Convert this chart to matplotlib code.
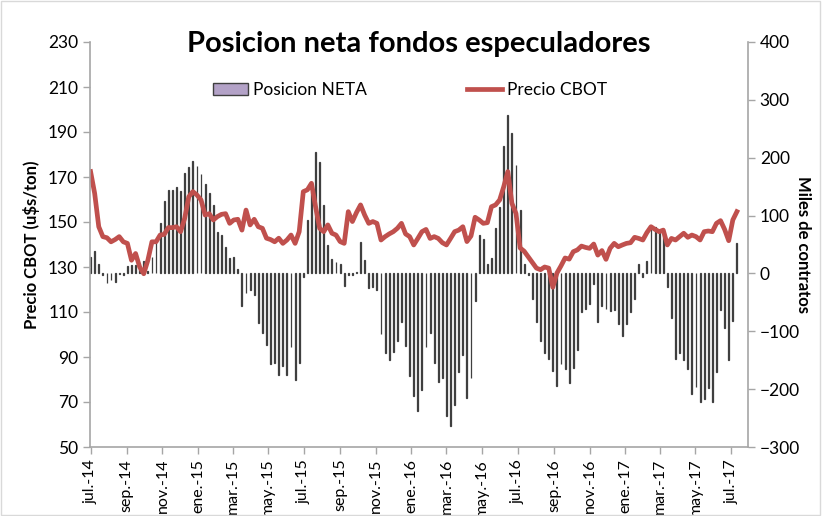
import matplotlib
matplotlib.use("Agg")
import matplotlib.pyplot as plt
import matplotlib.patches as mpatches
import matplotlib.lines as mlines
import pandas as pd

plt.rcParams['font.family'] = ['Lato', 'DejaVu Sans']

# weekly data (Tuesdays), jul-2014 .. jul-2017
fechas = pd.date_range('2014-07-01', periods=159, freq='7D')

# Posicion neta (miles de contratos)
posicion = [28, 38, 17, -3, -17, -11, -14, -1, -2, 12,
            15, 15, 12, 22, 5, 28, 52, 87, 126, 145,
            145, 150, 142, 173, 184, 195, 185, 171, 154, 139,
            119, 71, 66, 45, 26, 28, 7, -57, -34, -28,
            -38, -85, -103, -123, -156, -155, -175, -160, -175, -127,
            -184, -155, -7, 92, 141, 210, 193, 118, 50, 25,
            20, 17, -21, -2, -2, 3, 54, 24, -25, -24,
            -28, -104, -138, -149, -136, -117, -84, -125, -178, -211,
            -237, -202, -127, -103, -155, -188, -181, -246, -263, -227,
            -170, -141, -215, -180, -47, 66, 60, 17, 26, 78,
            115, 221, 273, 242, 187, 109, 17, -3, -45, -84,
            -117, -138, -148, -168, -195, -156, -165, -189, -163, -132,
            -67, -61, -52, -18, -84, -57, -61, -65, -63, -88,
            -109, -87, -67, -45, 17, -7, 22, 83, 80, 74,
            71, -24, -77, -148, -138, -150, -165, -208, -197, -223,
            -217, -198, -223, -170, -64, -94, -149, -83, 52]

# Precio CBOT (u$s/ton)
precio = [172.4, 162.7, 147.9, 143.5, 143.0, 141.2, 142.2, 143.5, 141.2, 140.5,
          133.0, 136.0, 130.0, 127.0, 133.0, 141.2, 141.2, 144.2, 144.5, 147.5,
          147.5, 147.9, 145.7, 151.6, 161.2, 163.5, 162.0, 159.8, 153.1, 153.7,
          150.9, 152.4, 153.4, 153.7, 149.4, 150.9, 151.2, 146.4, 155.3, 148.7,
          151.2, 147.9, 147.2, 142.8, 142.2, 141.2, 142.8, 140.5, 142.0, 144.2,
          140.5, 145.7, 163.5, 164.3, 167.2, 156.8, 147.2, 145.7, 148.7, 145.0,
          144.2, 141.3, 140.5, 154.6, 150.2, 154.2, 157.6, 153.1, 149.4, 150.2,
          149.4, 142.0, 143.5, 144.7, 145.7, 147.2, 149.4, 144.7, 143.5, 139.8,
          142.7, 145.7, 146.7, 142.7, 143.5, 142.7, 140.8, 139.8, 142.7, 145.7,
          146.4, 147.9, 141.3, 143.8, 152.1, 150.9, 149.4, 149.7, 156.8, 157.6,
          159.8, 165.7, 172.4, 158.3, 153.8, 138.5, 137.0, 134.5, 132.0, 129.5,
          128.8, 130.0, 129.5, 121.0, 127.3, 130.5, 134.0, 133.5, 136.8, 137.6,
          139.3, 138.7, 138.3, 140.2, 135.3, 137.3, 133.4, 138.3, 140.5, 139.0,
          139.8, 140.5, 140.8, 143.2, 142.7, 142.0, 145.3, 147.9, 146.7, 145.7,
          146.4, 139.8, 142.7, 142.0, 143.5, 145.0, 143.2, 144.2, 143.5, 142.0,
          145.7, 146.0, 145.7, 149.4, 150.6, 146.7, 141.7, 150.9, 154.6]

tick_fechas = pd.date_range('2014-07-01', '2017-07-01', freq='2MS')
tick_labels = ['jul.-14', 'sep.-14', 'nov.-14', 'ene.-15', 'mar.-15', 'may.-15',
               'jul.-15', 'sep.-15', 'nov.-15', 'ene.-16', 'mar.-16', 'may.-16',
               'jul.-16', 'sep.-16', 'nov.-16', 'ene.-17', 'mar.-17', 'may.-17',
               'jul.-17']

gris = '#A6A6A6'
rojo = '#C0504D'
lila = '#B3A2C7'
borde = '#3F3F3F'

fig = plt.figure(figsize=(8.22, 5.16), dpi=100)
ax = fig.add_axes([90/822, 1 - 447/516, (748 - 90)/822, (447 - 42)/516])
ax2 = ax.twinx()

# bars (right axis)
ax.bar(fechas, posicion, width=1.5, color=lila, edgecolor=borde, linewidth=0.9)
ax.set_ylim(-300, 400)
ax.set_yticks(range(-300, 401, 100))
ax.yaxis.tick_right()
ax.yaxis.set_label_position('right')
ax.set_ylabel('Miles de contratos', fontsize=12, fontweight='bold',
              rotation=-90, labelpad=8)

# price line (left axis)
ax2.plot(fechas, precio, color=rojo, linewidth=3.4, solid_joinstyle='round')
ax2.set_ylim(50, 230)
ax2.set_yticks(range(50, 231, 20))
ax2.yaxis.tick_left()
ax2.yaxis.set_label_position('left')
ax2.set_ylabel('Precio CBOT (u$s/ton)', fontsize=12, fontweight='bold', labelpad=6)

ax.set_xlim(pd.Timestamp('2014-06-30'), pd.Timestamp('2017-07-30'))
ax.set_xticks(tick_fechas)
ax.set_xticklabels(tick_labels, rotation=90, fontsize=11)

for a in (ax, ax2):
    for s in a.spines.values():
        s.set_visible(False)
    a.tick_params(colors=gris, labelcolor='black', labelsize=12.5, length=5, width=1)
ax.spines['right'].set_visible(True)
ax.spines['bottom'].set_visible(True)
ax2.spines['left'].set_visible(True)
for s in (ax.spines['right'], ax.spines['bottom'], ax2.spines['left']):
    s.set_color(gris)
    s.set_linewidth(1.2)
ax.tick_params(axis='x', labelsize=11.5)

fig.text(0.510, 0.915, 'Posicion neta fondos especuladores', ha='center',
         va='center', fontsize=21, fontweight='bold')

h1 = mpatches.Patch(facecolor=lila, edgecolor=borde, linewidth=1)
h2 = mlines.Line2D([], [], color=rojo, linewidth=3.4)
fig.legend([h1, h2], ['Posicion NETA', 'Precio CBOT'], loc='center',
           bbox_to_anchor=(0.499, 0.826), ncol=2, frameon=False, fontsize=12.5,
           handlelength=2.0, handletextpad=0.3, columnspacing=5.8)

# chart border
fig.patches.append(mpatches.Rectangle((0.001, 0.001), 0.997, 0.997, transform=fig.transFigure,
                                      fill=False, edgecolor='#D9D9D9', linewidth=1))

fig.savefig('out.png', dpi=100)
